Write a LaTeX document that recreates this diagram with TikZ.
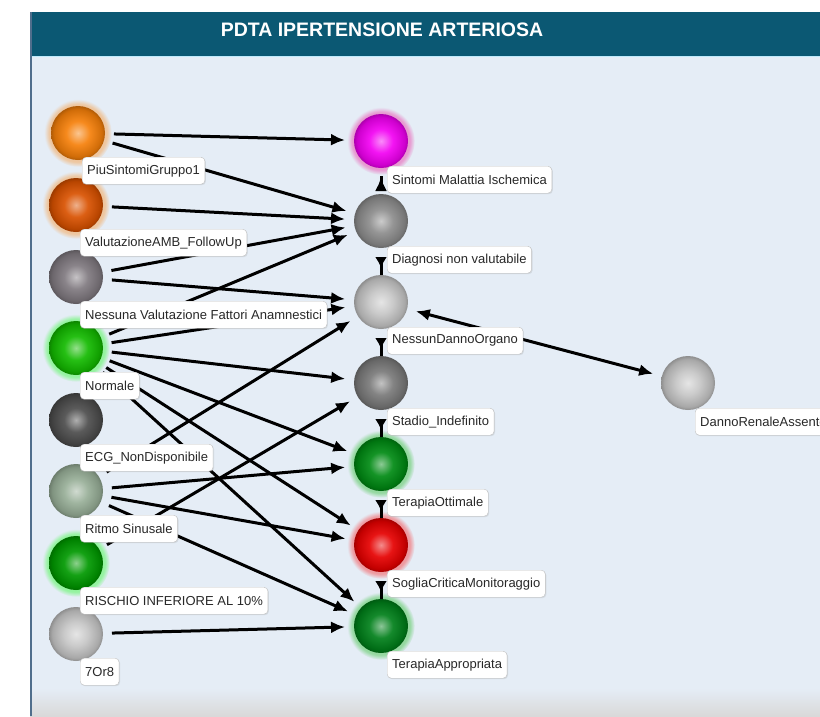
\documentclass[tikz,border=0pt]{standalone}
\usepackage{fontspec}
\setmainfont{Liberation Sans}
\usepackage{tikz}
\usetikzlibrary{arrows.meta, shadows}
\definecolor{headTeal}{RGB}{11,88,115}
\definecolor{bodyBlue}{RGB}{229,237,246}
\definecolor{frameBlue}{RGB}{80,110,140}
\definecolor{tagText}{RGB}{40,40,40}
\colorlet{ballc}{gray}
% sphere look: light centre, darker rim
\pgfdeclareradialshading[ballc]{glass}{\pgfpoint{0bp}{0bp}}{%
    color(0bp)=(ballc!45!white); color(11bp)=(ballc!92!white);
    color(22bp)=(ballc!85!black); color(25bp)=(ballc!72!black);
    color(50bp)=(ballc!72!black)}
\tikzset{style={font=\fontsize{13}{15}\selectfont}}

\begin{document}
\begin{tikzpicture}[
            x=1pt, y=-1pt,
            my ball/.style={
                circle, minimum size=54pt, inner sep=0pt, outer sep=9pt,
                /utils/exec={\colorlet{ballc}{#1}}, shading=glass,
            },
            my glow/.style={circular glow={fill=#1, opacity=.35}},
            my tag/.style={
                draw=gray!50, fill=white, rounded corners=4pt, text=tagText,
                inner xsep=5pt, inner ysep=0pt, minimum height=27pt,
                anchor=north west,
                drop shadow={opacity=.18, shadow xshift=1pt, shadow yshift=-1pt},
            },
            my arrow/.style={
                line width=3pt, -{Latex[length=14pt, width=12pt]},
            },
            my link/.style={
                line width=3pt, {Latex[reversed, length=11pt, width=12pt]}-,
                shorten >=-9pt,
            }]
        % frame
        \useasboundingbox (0,0) rectangle (820,716);
        \fill[bodyBlue] (30,56) rectangle (820,716);
        \shade[top color=bodyBlue, bottom color=gray!30] (30,688) rectangle (820,716);
        \fill[headTeal] (30,12) rectangle (820,56);
        \draw[cyan!25, line width=1pt] (30,56.5) -- (820,56.5);
        \draw[frameBlue, line width=2pt] (31,12) -- (31,716);
        \node[text=white, font=\fontsize{19.5}{21}\selectfont\bfseries] (title) at (382,30)
            {PDTA IPERTENSIONE ARTERIOSA};

        % left column
        \node[my ball={orange!85!brown}, my glow=orange] (l1) at (78,133) {};
        \node[my ball={orange!75!red!85!black}, my glow=orange] (l2) at (76,205) {};
        \node[my ball={gray!95!violet}] (l3) at (76,277) {};
        \node[my ball={green!70!black!90!lime}, my glow=green] (l4) at (76,348) {};
        \node[my ball={black!70}] (l5) at (76,420) {};
        \node[my ball={gray!60!green!30!white!75!black}] (l6) at (76,491) {};
        \node[my ball={green!60!black}, my glow=green] (l7) at (76,563) {};
        \node[my ball={gray!45}] (l8) at (76,634) {};

        % middle column
        \node[my ball={magenta!90!violet}, my glow=magenta] (m1) at (381,141) {};
        \node[my ball={gray!90}] (m2) at (381,221) {};
        \node[my ball={gray!45}] (m3) at (381,302) {};
        \node[my ball={gray!95!black}] (m4) at (381,383) {};
        \node[my ball={green!55!black!85!teal}, my glow=green!70!black] (m5) at (381,464) {};
        \node[my ball={red!90!black}, my glow=red] (m6) at (381,545) {};
        \node[my ball={green!50!black!80!teal}, my glow=green!70!black] (m7) at (381,626) {};

        \node[my ball={gray!45}] (r1) at (688,383) {};

        % connectors
        \draw[my arrow] (l1) -- (m1);
        \draw[my arrow] (l1) -- (m2);
        \draw[my arrow] (l2) -- (m2);
        \draw[my arrow] (l3) -- (m2);
        \draw[my arrow] (l3) -- (m3);
        \draw[my arrow] (l4) -- (m2);
        \draw[my arrow] (l4) -- (m3);
        \draw[my arrow] (l4) -- (m4);
        \draw[my arrow] (l4) -- (m5);
        \draw[my arrow] (l4) -- (m6);
        \draw[my arrow] (l4) -- (m7);
        \draw[my arrow] (l6) -- (m3);
        \draw[my arrow] (l6) -- (m5);
        \draw[my arrow] (l6) -- (m6);
        \draw[my arrow] (l6) -- (m7);
        \draw[my arrow] (l7) -- (m4);
        \draw[my arrow] (l8) -- (m7);
        \draw[my arrow, shorten <=-9pt] (m2) -- (m1);
        \draw[my link] (m2) -- (m3);
        \draw[my link] (m3) -- (m4);
        \draw[my link] (m4) -- (m5);
        \draw[my link] (m5) -- (m6);
        \draw[my link] (m6) -- (m7);
        \draw[my arrow, {Latex[length=14pt, width=12pt]}-{Latex[length=14pt, width=12pt]}] (m3) -- (r1);

        % labels
        \node[my tag] (t-l1) at ([shift={(4,24)}]l1.center) {PiuSintomiGruppo1};
        \node[my tag] (t-l2) at ([shift={(4,24)}]l2.center) {ValutazioneAMB\_FollowUp};
        \node[my tag] (t-l3) at ([shift={(4,24)}]l3.center) {Nessuna Valutazione Fattori Anamnestici};
        \node[my tag] (t-l4) at ([shift={(4,24)}]l4.center) {Normale};
        \node[my tag] (t-l5) at ([shift={(4,24)}]l5.center) {ECG\_NonDisponibile};
        \node[my tag] (t-l6) at ([shift={(4,24)}]l6.center) {Ritmo Sinusale};
        \node[my tag] (t-l7) at ([shift={(4,24)}]l7.center) {RISCHIO INFERIORE AL 10\%};
        \node[my tag] (t-l8) at ([shift={(4,24)}]l8.center) {7Or8};
        \node[my tag] (t-m1) at ([shift={(6,25)}]m1.center) {Sintomi Malattia Ischemica};
        \node[my tag] (t-m2) at ([shift={(6,25)}]m2.center) {Diagnosi non valutabile};
        \node[my tag] (t-m3) at ([shift={(6,25)}]m3.center) {NessunDannoOrgano};
        \node[my tag] (t-m4) at ([shift={(6,25)}]m4.center) {Stadio\_Indefinito};
        \node[my tag] (t-m5) at ([shift={(6,25)}]m5.center) {TerapiaOttimale};
        \node[my tag] (t-m6) at ([shift={(6,25)}]m6.center) {SogliaCriticaMonitoraggio};
        \node[my tag] (t-m7) at ([shift={(6,25)}]m7.center) {TerapiaAppropriata};
        \node[my tag] (t-r1) at ([shift={(7,25)}]r1.center) {DannoRenaleAssente};
        \end{tikzpicture}
\end{document}
